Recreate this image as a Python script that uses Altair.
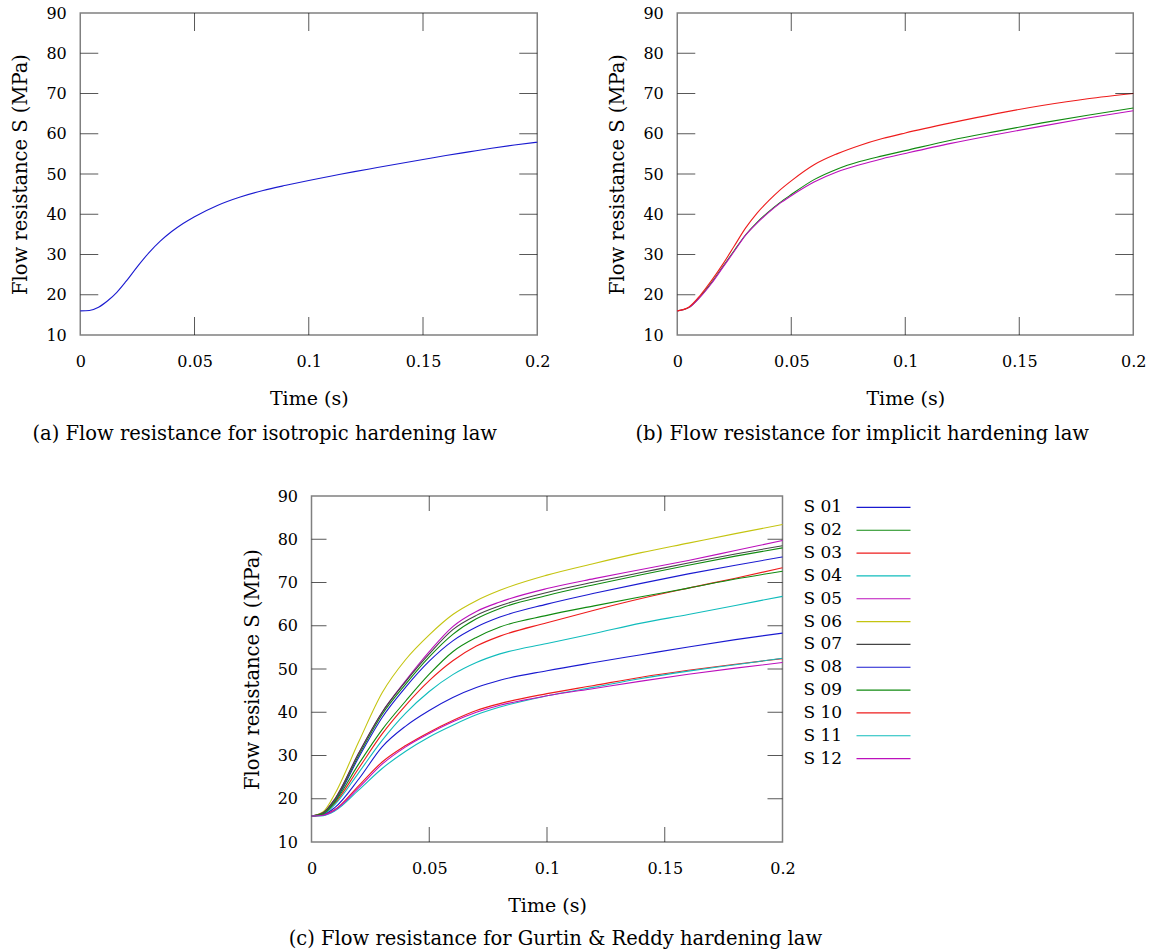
import altair as alt
import pandas as pd

FONT = "DejaVu Serif"

# ---------------- data ----------------
x_ticks = [0, 0.05, 0.1, 0.15, 0.2]
y_ticks = [10, 20, 30, 40, 50, 60, 70, 80, 90]

# (a) isotropic hardening law
t_a = [0, 0.004, 0.008, 0.012, 0.016, 0.02, 0.025, 0.03, 0.035, 0.04, 0.045, 0.05,
       0.06, 0.07, 0.08, 0.09, 0.1, 0.11, 0.12, 0.13, 0.14, 0.15, 0.16,
       0.17, 0.18, 0.19, 0.2]
s_a = [16.0, 16.1, 16.9, 18.5, 20.6, 23.3, 27.0, 30.4, 33.3, 35.7, 37.7, 39.4,
       42.2, 44.3, 45.9, 47.2, 48.4, 49.5, 50.6, 51.6, 52.6, 53.6, 54.6,
       55.5, 56.4, 57.2, 57.9]

# (b) implicit hardening law
t_b = [0, 0.005, 0.01, 0.015, 0.02, 0.025, 0.03, 0.035, 0.04, 0.045, 0.05,
       0.06, 0.07, 0.08, 0.09, 0.1, 0.12, 0.14, 0.16, 0.18, 0.2]
b_red = [16.0, 16.9, 19.8, 23.5, 27.6, 32.1, 36.6, 40.3, 43.3, 46.0, 48.3,
         52.3, 55.0, 57.1, 58.8, 60.2, 62.7, 65.0, 67.0, 68.7, 70.0]
b_green = [16.0, 16.8, 19.5, 23.0, 27.0, 31.0, 34.9, 38.0, 40.6, 42.9, 44.9,
           48.6, 51.2, 53.1, 54.5, 55.8, 58.4, 60.6, 62.7, 64.6, 66.4]
b_magenta = [16.0, 16.8, 19.4, 22.8, 26.8, 30.8, 34.8, 37.8, 40.4, 42.7, 44.6,
             48.0, 50.5, 52.3, 53.8, 55.1, 57.6, 59.8, 61.9, 63.9, 65.7]

# (c) Gurtin & Reddy hardening law
t_c = [0, 0.005, 0.01, 0.02, 0.03, 0.04, 0.05, 0.06, 0.07, 0.08, 0.1, 0.12,
       0.14, 0.16, 0.18, 0.2]
s01 = [16, 16.6, 19.5, 29.5, 38.8, 45.8, 51.8, 56.5, 59.7, 62.0, 65.0, 67.5, 69.8, 72.0, 74.0, 75.9]
s02 = [16, 16.7, 19.8, 30.0, 39.5, 46.5, 52.8, 58.0, 61.6, 64.0, 67.0, 69.5, 71.8, 74.0, 76.1, 78.0]
s03 = [16, 16.5, 19.0, 27.0, 35.0, 41.6, 47.3, 51.9, 55.3, 57.6, 60.7, 63.6, 66.3, 68.7, 71.0, 73.4]
s04 = [16, 16.4, 18.7, 26.0, 33.5, 39.8, 44.8, 48.7, 51.5, 53.5, 55.9, 58.2, 60.6, 62.6, 64.7, 66.8]
s05 = [16, 16.8, 20.0, 30.5, 40.0, 47.3, 54.0, 59.8, 63.3, 65.5, 68.6, 70.9, 73.0, 75.1, 77.4, 79.7]
s06 = [16, 17.0, 21.2, 33.1, 44.5, 52.2, 57.9, 62.6, 65.8, 68.2, 71.7, 74.4, 76.9, 79.1, 81.3, 83.4]
s07 = [16, 16.8, 20.0, 30.5, 40.0, 47.1, 53.5, 59.1, 62.4, 64.6, 67.7, 70.1, 72.3, 74.5, 76.6, 78.5]
s08 = [16, 16.3, 18.0, 24.5, 32.0, 36.8, 40.4, 43.4, 45.7, 47.4, 49.6, 51.5, 53.3, 55.1, 56.8, 58.3]
s09 = [16, 16.5, 19.3, 28.0, 36.0, 42.6, 48.8, 54.0, 57.3, 59.7, 62.4, 64.6, 66.7, 68.7, 70.8, 72.6]
s10 = [16, 16.2, 17.5, 23.0, 28.5, 32.3, 35.4, 38.1, 40.4, 42.0, 44.3, 46.2, 48.1, 49.7, 51.1, 52.4]
s11 = [16, 16.1, 17.2, 22.0, 27.0, 31.0, 34.3, 37.0, 39.4, 41.2, 43.8, 45.8, 47.8, 49.5, 51.0, 52.5]
s12 = [16, 16.2, 17.4, 22.5, 28.0, 32.0, 35.1, 37.8, 40.0, 41.6, 43.8, 45.5, 47.2, 48.8, 50.2, 51.5]

names_c = ["S 01", "S 02", "S 03", "S 04", "S 05", "S 06",
           "S 07", "S 08", "S 09", "S 10", "S 11", "S 12"]
series_c = [s01, s02, s03, s04, s05, s06, s07, s08, s09, s10, s11, s12]

captions = ["(a) Flow resistance for isotropic hardening law",
            "(b) Flow resistance for implicit hardening law",
            "(c) Flow resistance for Gurtin & Reddy hardening law"]

# ---------------- colours (MATLAB-like order) ----------------
BLUE, GREEN, RED, CYAN, MAG, YEL, GRAY = ("#1a1ad0", "#108a10", "#ee1c1c",
                                          "#10bcbc", "#bc10bc", "#c4c410", "#444444")
color_domain = ["a", "b red", "b green", "b magenta"] + names_c
color_range = [BLUE, RED, GREEN, MAG,
               BLUE, GREEN, RED, CYAN, MAG, YEL, GRAY, BLUE, GREEN, RED, CYAN, MAG]
color_scale = alt.Scale(domain=color_domain, range=color_range)


def long_df(t, named):
    rows = []
    for name, vals in named:
        for ti, v in zip(t, vals):
            rows.append({"t": ti, "s": v, "series": name})
    return pd.DataFrame(rows)


df_a = long_df(t_a, [("a", s_a)])
df_b = long_df(t_b, [("b green", b_green), ("b magenta", b_magenta), ("b red", b_red)])
df_c = long_df(t_c, list(zip(names_c, series_c)))

xt_df = pd.DataFrame({"t": x_ticks[1:-1]})
yt_df = pd.DataFrame({"s": y_ticks[1:-1]})


def panel(df, w, h, tick):
    x_scale = alt.Scale(domain=[0, 0.2], nice=False, zero=False)
    y_scale = alt.Scale(domain=[10, 90], nice=False, zero=False)
    x_axis = alt.Axis(values=x_ticks, format="~g", title="Time (s)", grid=False,
                      labelPadding=18, titlePadding=20)
    y_axis = alt.Axis(values=y_ticks, title="Flow resistance S (MPa)", grid=False,
                      labelPadding=14, titlePadding=15, titleFontSize=19.5)
    lines = alt.Chart(df).mark_line(strokeWidth=1.1, interpolate="monotone").encode(
        x=alt.X("t:Q", scale=x_scale, axis=x_axis),
        y=alt.Y("s:Q", scale=y_scale, axis=y_axis),
        color=alt.Color("series:N", scale=color_scale, legend=None),
        detail="series:N",
    )
    # inward mirrored ticks (gnuplot style)
    tk = dict(thickness=1, size=tick, color="#111111")
    yl = alt.Chart(yt_df).mark_tick(orient="horizontal", **tk).encode(
        y=alt.Y("s:Q", scale=y_scale), x=alt.value(tick / 2))
    yr = alt.Chart(yt_df).mark_tick(orient="horizontal", **tk).encode(
        y=alt.Y("s:Q", scale=y_scale), x=alt.value(w - tick / 2))
    xb = alt.Chart(xt_df).mark_tick(orient="vertical", **tk).encode(
        x=alt.X("t:Q", scale=x_scale), y=alt.value(h - tick / 2))
    xtp = alt.Chart(xt_df).mark_tick(orient="vertical", **tk).encode(
        x=alt.X("t:Q", scale=x_scale), y=alt.value(tick / 2))
    return alt.layer(lines, yl, yr, xb, xtp).properties(width=w, height=h)


def caption(text, dx, offset):
    return alt.TitleParams(text=text, orient="bottom", anchor="middle", font=FONT,
                           fontSize=19.5, fontWeight="normal", color="black",
                           offset=offset, dx=dx, frame="group")


chart_a = panel(df_a, 457, 322, 18).properties(title=caption(captions[0], -44, 17))
chart_b = panel(df_b, 456, 322, 18).properties(title=caption(captions[1], -43, 17))
chart_c = panel(df_c, 471, 346, 15)

leg_df = pd.DataFrame({"series": names_c})
leg_y = alt.Y("series:N", axis=None, scale=alt.Scale(domain=names_c))
leg_text = alt.Chart(leg_df).mark_text(
    align="left", baseline="middle", font=FONT, fontSize=17, color="black"
).encode(y=leg_y, x=alt.value(0), text="series:N")
leg_rule = alt.Chart(leg_df).mark_rule(strokeWidth=1.1).encode(
    y=leg_y, x=alt.value(53), x2=alt.value(107),
    color=alt.Color("series:N", scale=color_scale, legend=None),
)
legend = alt.layer(leg_text, leg_rule).properties(
    width=112, height=274, view=alt.ViewBackground(strokeOpacity=0)
)

row1 = alt.hconcat(chart_a, chart_b, spacing=55)
row2 = alt.hconcat(chart_c, legend, spacing=7).properties(
    title=alt.TitleParams(text=captions[2], orient="bottom", anchor="middle", font=FONT,
                          fontSize=19.5, fontWeight="normal", color="black", offset=14,
                          dx=-23)
)

chart = alt.vconcat(row1, row2, spacing=42, center=True).properties(
    padding={"left": 10, "top": 4, "right": 5, "bottom": 5},
    background="white",
).configure_view(
    stroke="#808080", strokeWidth=1.5
).configure_axis(
    domain=False, ticks=False, tickSize=0, labelFlush=False,
    labelFont=FONT, labelFontSize=16, labelColor="black",
    titleFont=FONT, titleFontSize=19, titleFontWeight="normal", titleColor="black",
)

chart.save("out.html", embed_options={"renderer": "svg", "actions": False})
